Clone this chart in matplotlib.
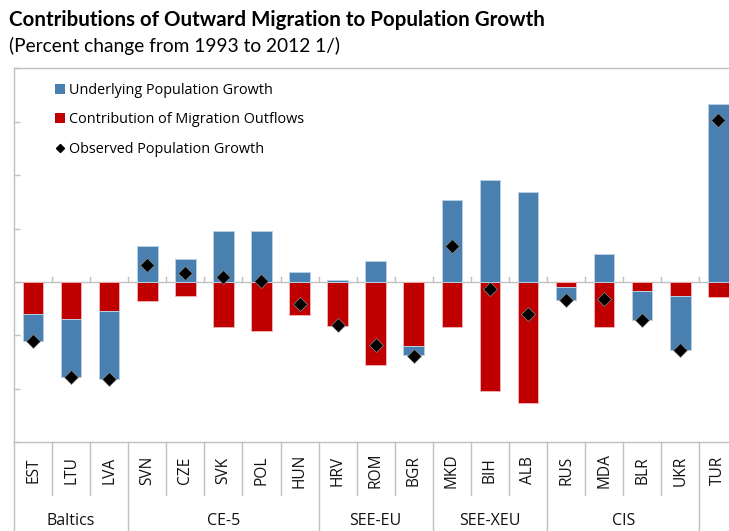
import matplotlib
matplotlib.use("Agg")
import matplotlib.pyplot as plt
import numpy as np
from matplotlib.patches import Patch
from matplotlib.lines import Line2D
from matplotlib.transforms import blended_transform_factory

countries = ["EST", "LTU", "LVA", "SVN", "CZE", "SVK", "POL", "HUN", "HRV", "ROM",
             "BGR", "MKD", "BIH", "ALB", "RUS", "MDA", "BLR", "UKR", "TUR"]
underlying = [-5.1, -10.8, -12.7, 6.7, 4.4, 9.5, 9.5, 1.9, 0.4, 3.9,
              -1.8, 15.3, 19.1, 16.9, -2.4, 5.2, -5.6, -10.0, 33.3]
migration = [-5.9, -6.9, -5.4, -3.5, -2.7, -8.5, -9.2, -6.2, -8.2, -15.6,
             -11.9, -8.4, -20.4, -22.7, -1.0, -8.4, -1.6, -2.7, -2.8]
observed = [-11.1, -17.8, -18.1, 3.2, 1.7, 0.9, 0.1, -4.2, -8.1, -11.8,
            -13.9, 6.8, -1.3, -5.9, -3.4, -3.2, -7.2, -12.7, 30.4]
groups = ["Baltics", "CE-5", "SEE-EU", "SEE-XEU", "CIS", ""]
group_sizes = [3, 5, 3, 3, 4, 1]

BLUE = "#4A80AF"
RED = "#C00000"
GRAY = "#C0C0C0"
FONT = "Open Sans"

W, H = 729, 531
fig = plt.figure(figsize=(W / 100, H / 100), dpi=100)
left, right, top, bottom = 14, 737.4, 68.3, 442.3
ax = fig.add_axes([left / W, 1 - bottom / H, (right - left) / W, (bottom - top) / H])

x = np.arange(len(countries))
und = np.array(underlying)
mig = np.array(migration)
blue_bottom = np.where(und < 0, mig, 0)
width = 0.54
ax.bar(x, mig, width, color=RED, edgecolor="#f0b0b0", linewidth=0.7, zorder=2)
ax.bar(x, und, width, bottom=blue_bottom, color=BLUE, edgecolor="#b9cfe3", linewidth=0.7, zorder=2)
ax.plot(x, observed, linestyle="none", marker="D", markersize=6.8, color="black",
        markeredgecolor="#888888", markeredgewidth=0.5, zorder=4)

ax.set_xlim(-0.5, len(countries) - 0.5)
ax.set_ylim(-30, 40)
ax.set_yticks(np.arange(-30, 41, 10))
ax.set_yticklabels([])
ax.tick_params(axis="y", direction="in", length=4, color=GRAY, width=1)
ax.set_xticks([])
for s in ax.spines.values():
    s.set_color(GRAY)
    s.set_linewidth(1)
ax.axhline(0, color=GRAY, lw=1, zorder=1)

# small ticks on zero line at category boundaries
bt = blended_transform_factory(ax.transData, ax.transAxes)
bounds = np.arange(len(countries) + 1) - 0.5
zero_frac = 30 / 70
for b in bounds[1:]:
    ax.plot([b, b], [zero_frac, zero_frac + 5 / (bottom - top)], color=GRAY, lw=1,
            transform=bt, zorder=1, clip_on=False)

# category label area
ah = bottom - top
cat_sep = -(495 - bottom) / ah
grp_sep = -(H - bottom + 2) / ah
cum = np.cumsum([0] + group_sizes)
group_edges = set(cum.tolist())
for i, b in enumerate(bounds):
    y1 = grp_sep if i in group_edges else cat_sep
    ax.plot([b, b], [0, y1], color=GRAY, lw=1, transform=bt, clip_on=False)
for xi, c in zip(x, countries):
    ax.text(xi, -(470.5 - bottom) / ah, c, rotation=90, ha="center", va="center",
            fontsize=11.2, family=FONT, transform=bt, color="#111111")
for g, a, b in zip(groups, cum[:-1], cum[1:]):
    if g:
        ax.text((a + b - 1) / 2, -(521 - bottom) / ah, g, ha="center", va="center",
                fontsize=11.5, family=FONT, transform=bt, color="#111111")

# legend
handles = [Patch(facecolor=BLUE, edgecolor="none"),
           Patch(facecolor=RED, edgecolor="none"),
           Line2D([], [], linestyle="none", marker="D", markersize=4.3, color="black")]
labels = ["Underlying Population Growth", "Contribution of Migration Outflows",
          "Observed Population Growth"]
leg = ax.legend(handles, labels, loc="upper left", bbox_to_anchor=(0.048, 0.977),
                frameon=False, handlelength=0.7, handleheight=0.7, handletextpad=0.3,
                labelspacing=1.0, borderaxespad=0, prop={"family": FONT, "size": 10.4})

fig.text(9 / W, 1 - 26 / H, "Contributions of Outward Migration to Population Growth",
         fontsize=14.8, fontweight="bold", family="Lato", va="baseline")
fig.text(9 / W, 1 - 52 / H, "(Percent change from 1993 to 2012 1/)",
         fontsize=13.8, family="Lato", va="baseline")

fig.savefig("out.png", dpi=100)
